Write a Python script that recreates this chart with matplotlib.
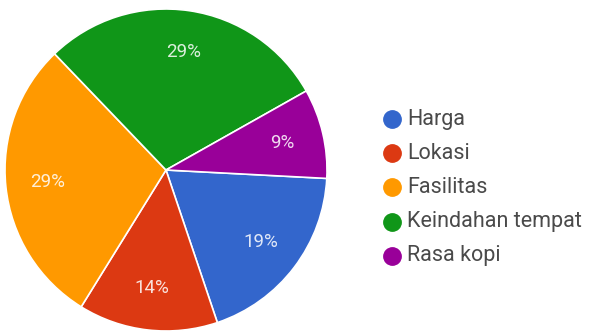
import matplotlib.pyplot as plt

# Data
categories = ['Harga', 'Lokasi', 'Fasilitas', 'Keindahan tempat', 'Rasa kopi']
percentages = [19, 14, 29, 29, 9]
colors = ['#3366cc', '#dc3912', '#ff9900', '#109618', '#990099']

plt.rcParams['font.family'] = ['Roboto', 'DejaVu Sans']

W, H = 590, 336
fig = plt.figure(figsize=(W / 100, H / 100), dpi=100)
ax = fig.add_axes([0, 0, 1, 1])

# Pie (pixel-like coords, y up)
wedges, texts, autotexts = ax.pie(
    percentages,
    colors=colors,
    startangle=-3,
    counterclock=False,
    center=(166, H - 170),
    radius=161,
    autopct='%d%%',
    pctdistance=0.74,
    wedgeprops=dict(edgecolor='white', linewidth=1.2),
    textprops=dict(color='white', fontsize=13.5),
)
for t in autotexts:
    t.set_alpha(0.85)

# Legend drawn as markers + text
leg_x = 392
leg_y0 = 119
leg_step = 34.2
for i, (name, col) in enumerate(zip(categories, colors)):
    y = H - (leg_y0 + i * leg_step)
    ax.plot(leg_x, y, marker='o', markersize=12.5, color=col, linestyle='none')
    ax.text(leg_x + 15, y, name, fontsize=15.5, color='#4a4a4a',
            va='center', ha='left')

ax.set_xlim(0, W)
ax.set_ylim(0, H)
ax.set_aspect('equal')
ax.axis('off')

fig.savefig('out.png', dpi=100, facecolor='white')
